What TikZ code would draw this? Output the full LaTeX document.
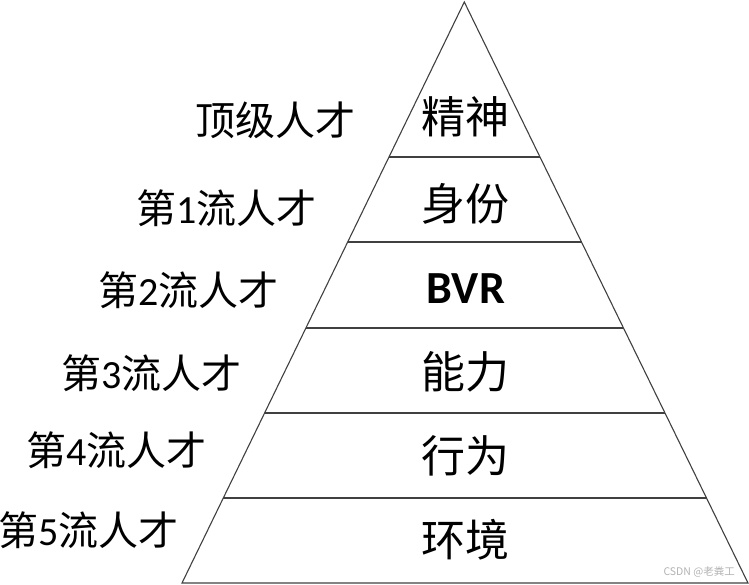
\documentclass[tikz,border=0pt]{standalone}
\usepackage{fontspec}
\setmainfont{Carlito}
\newfontfamily\cjk{Noto Sans CJK SC}
\usetikzlibrary{calc}
\tikzset{
  edge/.style={draw=black!75, line width=1.1pt},
  tier/.style={font=\fontsize{44}{44}\selectfont\cjk, inner sep=0pt, anchor=center},
  bvr/.style={font=\fontsize{46}{46}\selectfont\bfseries, inner sep=0pt, anchor=center},
  rank/.style={font=\fontsize{40}{40}\selectfont, inner sep=0pt, anchor=east},
  wmark/.style={font=\fontsize{10.5}{10.5}\selectfont\cjk, text=black!30, inner sep=0pt, anchor=east}
}
\begin{document}
\begin{tikzpicture}[x=1pt,y=-1pt]
\useasboundingbox (0,0) rectangle (749,584);
\coordinate (apex) at (464.3,2);
\coordinate (bl) at (182,583);
\coordinate (br) at (748,583);
\draw[edge] (apex) -- (bl) -- (br) -- cycle;
\foreach \t [count=\i] in {0.2668,0.4131,0.5611,0.7074,0.8537}{
  \coordinate (l\i) at ($(apex)!\t!(bl)$);
  \coordinate (r\i) at ($(apex)!\t!(br)$);
  \draw[edge] (l\i) -- (r\i);
}
\node[tier] (t0) at (465,117) {精神};
\node[tier] (t1) at (465,204) {身份};
\node[bvr]  (t2) at (466,289) {BVR};
\node[tier] (t3) at (465,372) {能力};
\node[tier] (t4) at (465,456) {行为};
\node[tier] (t5) at (465,540) {环境};
\node[rank] (k0) at (356,120) {\cjk 顶级人才};
\node[rank] (k1) at (317,208) {{\cjk 第}1{\cjk 流人才}};
\node[rank] (k2) at (279,290) {{\cjk 第}2{\cjk 流人才}};
\node[rank] (k3) at (242,373) {{\cjk 第}3{\cjk 流人才}};
\node[rank] (k4) at (207,450) {{\cjk 第}4{\cjk 流人才}};
\node[rank] (k5) at (179,530) {{\cjk 第}5{\cjk 流人才}};
\node[wmark] (wm) at (735,572) {CSDN @老粪工};
\end{tikzpicture}
\end{document}
